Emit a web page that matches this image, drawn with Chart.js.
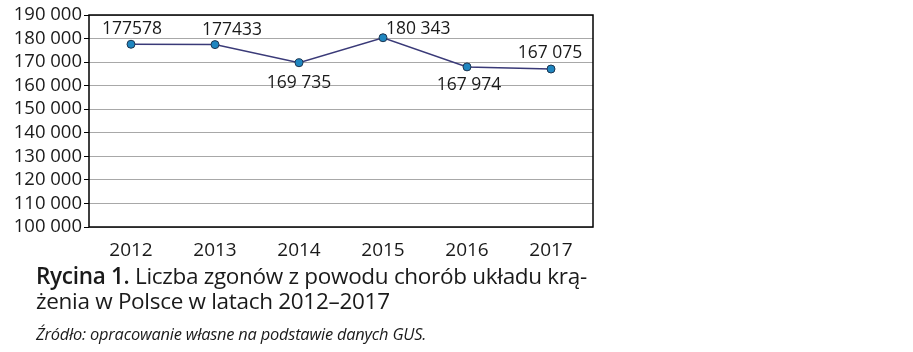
<!DOCTYPE html>
<html>
<head>
<meta charset="utf-8">
<script src="https://cdn.jsdelivr.net/npm/chart.js@4"></script>
<style>
  body { margin: 0; background: #fff; font-family: "Open Sans", sans-serif; color: #1a1a1a; }
  #wrap { position: absolute; left: 0; top: 0; width: 620px; height: 262px; }
  #caption { position: absolute; left: 36px; top: 263px; font-size: 22.5px; line-height: 25px; letter-spacing: -0.3px; }
  #caption b { font-weight: 600; }
  #source { position: absolute; left: 36px; top: 322px; font-size: 16.4px; font-style: italic; letter-spacing: -0.2px; }
</style>
</head>
<body>
<div id="wrap"><canvas id="myChart"></canvas></div>
<div id="caption"><b>Rycina 1.</b> Liczba zgonów z powodu chorób układu krą-<br>żenia w Polsce w latach 2012–2017</div>
<div id="source">Źródło: opracowanie własne na podstawie danych GUS.</div>
<script>
var years = ["2012", "2013", "2014", "2015", "2016", "2017"];
var deaths = [177578, 177433, 169735, 180343, 167974, 167075];
var pointLabels = ["177578", "177433", "169 735", "180 343", "167 974", "167 075"];
var yMin = 100000, yMax = 190000, yStep = 10000;

function fmt(v) {
  return String(v).replace(/\B(?=(\d{3})+$)/g, " ");
}

// where each value label sits relative to its point
var labelPlace = [
  { dx: 1, dy: -15, align: "center" },
  { dx: 17, dy: -15, align: "center" },
  { dx: 0, dy: 20, align: "center" },
  { dx: 3, dy: -9, align: "left" },
  { dx: 2, dy: 18, align: "center" },
  { dx: -1, dy: -16, align: "center" }
];

var valueLabels = {
  id: "valueLabels",
  afterDatasetsDraw(chart) {
    var c = chart.ctx;
    var pts = chart.getDatasetMeta(0).data;
    c.save();
    c.font = "17.5px 'Open Sans'";
    c.fillStyle = "#1a1a1a";
    c.textBaseline = "middle";
    pts.forEach(function (p, i) {
      var pl = labelPlace[i];
      c.textAlign = pl.align;
      c.fillText(pointLabels[i], p.x + pl.dx, p.y + pl.dy);
    });
    c.restore();
  }
};

var frame = {
  id: "frame",
  afterDraw(chart) {
    var a = chart.chartArea, c = chart.ctx;
    c.save();
    c.strokeStyle = "#000";
    c.lineWidth = 1.5;
    c.strokeRect(a.left, a.top, a.right - a.left, a.bottom - a.top);
    c.restore();
  }
};

window.addEventListener("load", function () {
  var ctx = document.getElementById("myChart");
  new Chart(ctx, {
    type: "line",
    data: {
      labels: years,
      datasets: [{
        data: deaths,
        borderColor: "#3a3a78",
        borderWidth: 1.5,
        pointRadius: 4,
        pointBackgroundColor: "#1f86c0",
        pointBorderColor: "#1d3550",
        pointBorderWidth: 1,
        tension: 0
      }]
    },
    options: {
      responsive: true,
      maintainAspectRatio: false,
      animation: false,
      layout: { padding: { left: 0, top: 15, right: 27, bottom: 0 } },
      plugins: { legend: { display: false }, tooltip: { enabled: false } },
      scales: {
        x: {
          offset: true,
          grid: { display: false },
          border: { display: false },
          ticks: { color: "#1a1a1a", font: { family: "Open Sans", size: 19 }, padding: 4 },
          afterFit: function (s) { s.height = 35; }
        },
        y: {
          min: yMin,
          max: yMax,
          border: { display: false },
          grid: { color: "#a8a8a8", lineWidth: 1, tickLength: 5, tickColor: "#000" },
          ticks: {
            stepSize: yStep,
            autoSkip: false,
            color: "#1a1a1a",
            padding: 2,
            font: { family: "Open Sans", size: 18.5, lineHeight: 1 },
            callback: function (v) { return fmt(v); }
          },
          afterFit: function (s) { s.width = 89; }
        }
      }
    },
    plugins: [valueLabels, frame]
  });
});
</script>
</body>
</html>
